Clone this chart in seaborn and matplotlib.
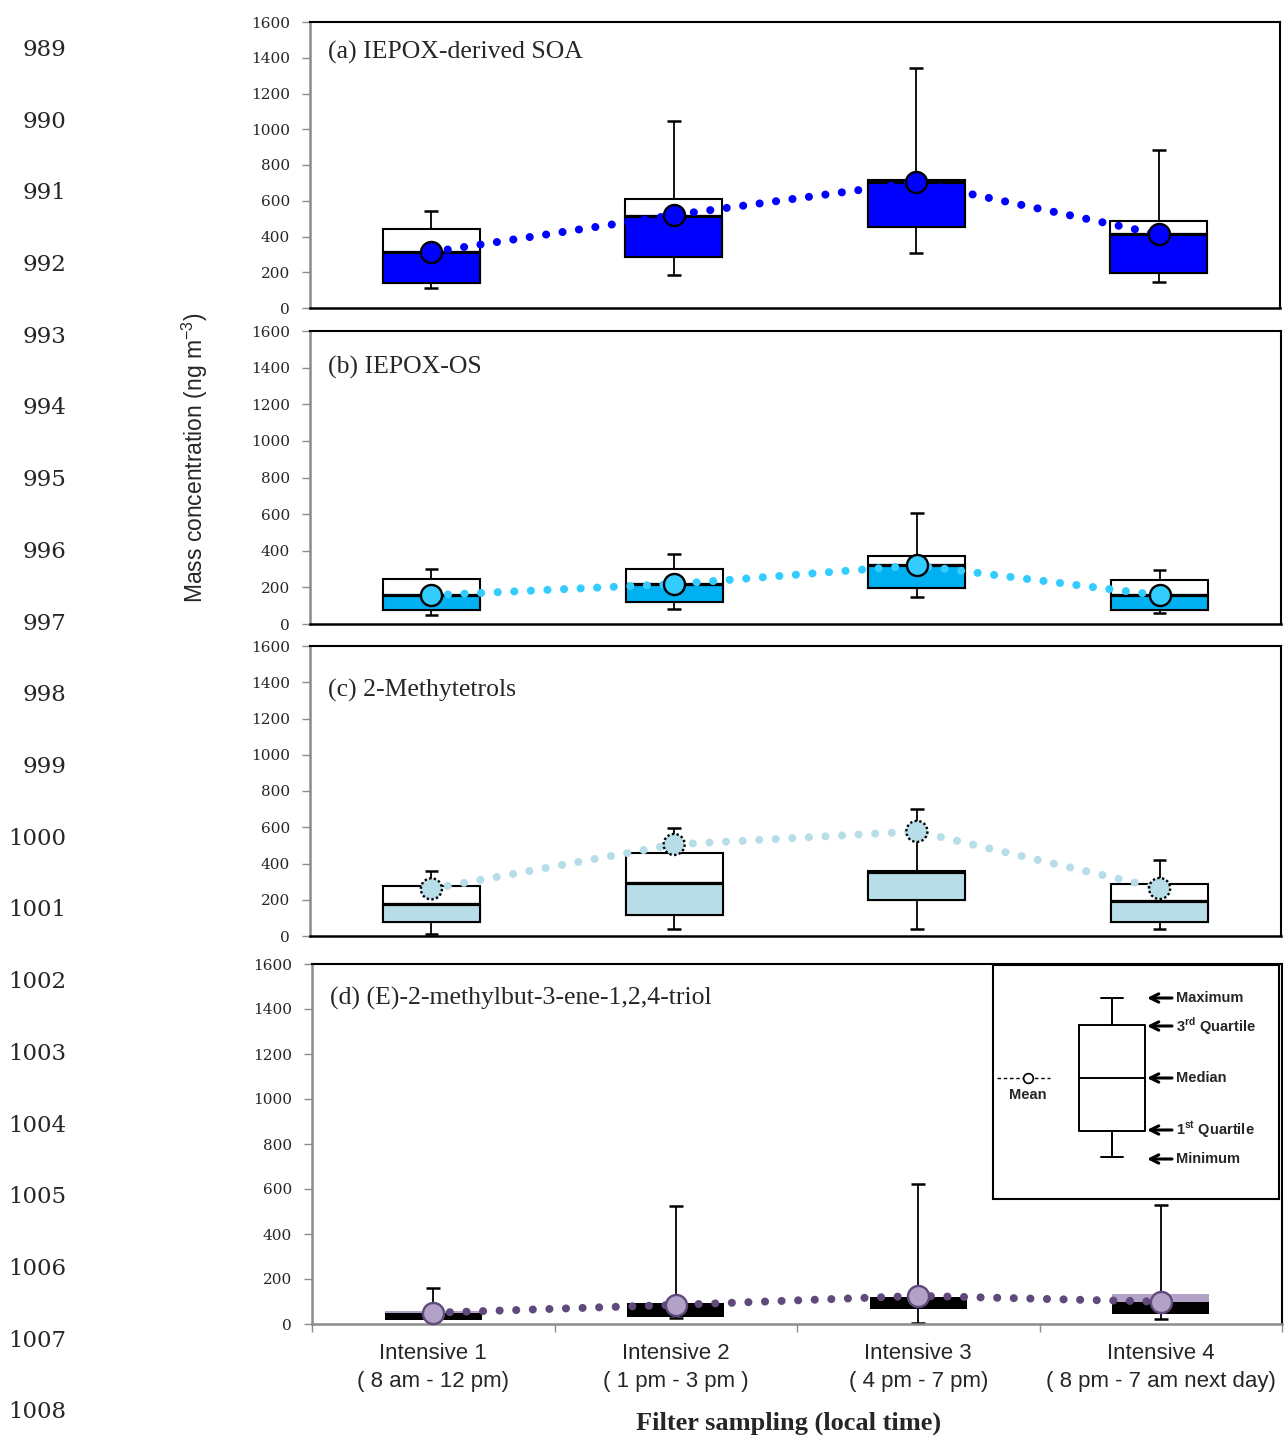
import numpy as np
import pandas as pd
import matplotlib
matplotlib.use("Agg")
import matplotlib.pyplot as plt
import seaborn as sns

# ---------------------------------------------------------------- data
periods = ["Intensive 1", "Intensive 2", "Intensive 3", "Intensive 4"]
period_labels = ["Intensive 1\n( 8 am - 12 pm)", "Intensive 2\n( 1 pm - 3 pm )",
                 "Intensive 3\n( 4 pm - 7 pm)", "Intensive 4\n( 8 pm - 7 am next day)"]

# (a) IEPOX-derived SOA (ng m-3)
soa_min = [112, 185, 308, 147]
soa_q1 = [138, 287, 455, 196]
soa_median = [313, 517, 703, 414]
soa_q3 = [444, 612, 716, 487]
soa_max = [543, 1048, 1344, 882]
soa_mean = [313, 520, 703, 412]

# (b) IEPOX-OS
os_min = [51, 84, 147, 62]
os_q1 = [76, 120, 197, 76]
os_median = [158, 220, 322, 158]
os_q3 = [248, 299, 371, 239]
os_max = [299, 381, 604, 297]
os_mean = [157, 218, 320, 157]

# (c) 2-methyltetrols
mt_min = [13, 37, 39, 37]
mt_q1 = [75, 118, 199, 79]
mt_median = [177, 291, 354, 195]
mt_q3 = [274, 456, 361, 286]
mt_max = [359, 596, 702, 418]
mt_mean = [260, 505, 577, 262]

# (d) (E)-2-methylbut-3-ene-1,2,4-triol
tr_min = [12, 27, 3, 22]
tr_q1 = [18, 33, 65, 43]
tr_median = [48, 92, 119, 99]
tr_q3 = [56, 93, 122, 133]
tr_max = [160, 526, 621, 529]
tr_mean = [50, 85, 125, 99]

panel_titles = ["(a) IEPOX-derived SOA", "(b) IEPOX-OS", "(c) 2-Methytetrols",
                "(d) (E)-2-methylbut-3-ene-1,2,4-triol"]
y_ticks = [0, 200, 400, 600, 800, 1000, 1200, 1400, 1600]
line_numbers = list(range(989, 1009))

legend_items = ["Maximum", r"3$^{\mathregular{rd}}$ Quartile", "Median",
                r"1$^{\mathregular{st}}$ Quartile", "Minimum"]

# ---------------------------------------------------------------- styles
styles = [
    dict(lower="#0000FF", upper="white", edge="black", box_lw=1.5, median_line=True,
         face="#0000FF", medge="black", mls="solid", line="#0000FF"),
    dict(lower="#00B0F0", upper="white", edge="black", box_lw=1.5, median_line=True,
         face="#33CCFF", medge="black", mls="solid", line="#33CCFF"),
    dict(lower="#B7DEE8", upper="white", edge="black", box_lw=1.5, median_line=True,
         face="#B7DEE8", medge="black", mls=(0, (1.0, 1.0)), line="#B7DEE8"),
    dict(lower="black", upper="#B3A2C7", edge="none", box_lw=0, median_line=False,
         face="#B3A2C7", medge="#604A7B", mls="solid", line="#604A7B"),
]
title_y = [0.892, 0.877, 0.848, 0.905]

sns.set_style("white")
plt.rcParams["font.family"] = ["Liberation Serif", "DejaVu Serif"]

W, H = 1284, 1437
fig = plt.figure(figsize=(W / 100, H / 100), dpi=100)
fig.patch.set_facecolor("white")


def px_axes(left, top, right, bottom):
    return fig.add_axes([left / W, 1 - bottom / H, (right - left) / W, (bottom - top) / H])


frames = [(310, 22, 1280, 308), (310, 331, 1281, 624), (310, 646, 1281, 936), (312, 964, 1282, 1324)]
datasets = [
    (soa_min, soa_q1, soa_median, soa_q3, soa_max, soa_mean),
    (os_min, os_q1, os_median, os_q3, os_max, os_mean),
    (mt_min, mt_q1, mt_median, mt_q3, mt_max, mt_mean),
    (tr_min, tr_q1, tr_median, tr_q3, tr_max, tr_mean),
]

GRAY = "#8c8c8c"
box_width = 0.4
cap_half = 0.028

for i, (frame, data, st) in enumerate(zip(frames, datasets, styles)):
    ax = px_axes(*frame)
    vmin, q1, med, q3, vmax, mean = data
    df = pd.DataFrame({"period": periods, "vmin": vmin, "q1": q1, "median": med,
                       "q3": q3, "vmax": vmax, "mean": mean})
    df["iqr"] = df["q3"] - df["q1"]
    df["lower"] = df["median"] - df["q1"]
    pos = np.arange(len(periods))

    # interquartile box (upper half colour), then lower quartile-to-median fill
    sns.barplot(data=df, x="period", y="iqr", bottom=df["q1"].to_numpy(),
                color=st["upper"], saturation=1, width=box_width, errorbar=None,
                edgecolor=st["edge"], linewidth=st["box_lw"], ax=ax, zorder=2)
    sns.barplot(data=df, x="period", y="lower", bottom=df["q1"].to_numpy(),
                color=st["lower"], saturation=1, width=box_width, errorbar=None,
                edgecolor=st["edge"], linewidth=st["box_lw"], ax=ax, zorder=2)
    if st["median_line"]:
        ax.hlines(df["median"], pos - box_width / 2, pos + box_width / 2,
                  color="black", lw=2.3, zorder=2.5)

    # whiskers with caps
    ax.vlines(pos, df["q3"], df["vmax"], color="black", lw=1.3, zorder=1)
    ax.vlines(pos, df["vmin"], df["q1"], color="black", lw=1.3, zorder=1)
    ax.hlines(df["vmax"], pos - cap_half, pos + cap_half, color="black", lw=1.8, zorder=1)
    ax.hlines(df["vmin"], pos - cap_half, pos + cap_half, color="black", lw=1.8, zorder=1)

    # dotted connector through the means, then the mean markers
    sns.lineplot(data=df, x="period", y="mean", color=st["line"], linewidth=5.8,
                 linestyle=(0, (0.01, 2.05)), dash_capstyle="round", errorbar=None,
                 legend=False, ax=ax, zorder=3)
    sns.scatterplot(data=df, x="period", y="mean", s=230, color=st["face"],
                    edgecolor=st["medge"], linewidth=1.7, linestyle=st["mls"],
                    legend=False, ax=ax, zorder=4, clip_on=False)

    ax.set_xlim(-0.5, 3.5)
    ax.set_ylim(0, 1600)
    ax.set_yticks(y_ticks)
    ax.set_xlabel("")
    ax.set_ylabel("")
    ax.tick_params(axis="y", direction="out", length=6, width=1, color=GRAY,
                   pad=8.5, labelsize=11, left=True)
    for lab in ax.get_yticklabels():
        lab.set_fontfamily("DejaVu Serif")

    for side in ("top", "right"):
        ax.spines[side].set_color("black")
        ax.spines[side].set_linewidth(1.5)
    ax.spines["left"].set_color(GRAY)
    ax.spines["left"].set_linewidth(1.8)

    if i < 3:
        ax.spines["bottom"].set_color("black")
        ax.spines["bottom"].set_linewidth(1.8)
        ax.set_xticks([])
    else:
        ax.spines["bottom"].set_color(GRAY)
        ax.spines["bottom"].set_linewidth(1.8)
        ax.set_xticks(pos)
        ax.set_xticklabels(period_labels, fontfamily="Liberation Sans", fontsize=16,
                           linespacing=1.4)
        ax.set_xticks(np.arange(-0.5, 4.0, 1.0), minor=True)
        ax.tick_params(axis="x", which="major", length=0, pad=14, bottom=True)
        ax.tick_params(axis="x", which="minor", length=6, width=1, color=GRAY,
                       direction="out", bottom=True)

    ax.text(18 / 970, title_y[i], panel_titles[i], transform=ax.transAxes,
            fontfamily="Liberation Serif", fontsize=18.5, va="center", ha="left")

# ---------------------------------------------------------------- key box in panel (d)
lg = fig.add_axes([993 / W, 1 - 1199 / H, 286 / W, 234 / H])
lg.set_xlim(0, 286)
lg.set_ylim(234, 0)
lg.set_xticks([])
lg.set_yticks([])
lg.set_facecolor("white")
for s in lg.spines.values():
    s.set_color("black")
    s.set_linewidth(1.5)
k = dict(color="black", lw=1.4)
lg.plot([119, 119], [33, 60], **k)
lg.plot([119, 119], [166, 192], **k)
lg.plot([108, 130], [33, 33], **k)
lg.plot([108, 130], [192, 192], **k)
lg.plot([86, 152, 152, 86, 86], [60, 60, 166, 166, 60], **k)
lg.plot([86, 152], [113, 113], **k)
lg.plot([4, 57], [113, 113], color="black", lw=1.0, ls=(0, (2.5, 2.0)))
lg.plot([35], [113], marker="o", ms=7, mfc="white", mec="black", mew=1.2)
lg.text(35, 130, "Mean", ha="center", va="center", fontfamily="Liberation Sans",
        fontweight="bold", fontsize=10.5)
for yk, lab in zip([33, 61, 113, 165, 194], legend_items):
    lg.annotate("", xy=(154, yk), xytext=(179, yk),
                arrowprops=dict(arrowstyle="->", lw=2.2, color="black",
                                mutation_scale=15, shrinkA=0, shrinkB=0))
    lg.text(183, yk, lab, ha="left", va="center", fontfamily="Liberation Sans",
            fontweight="bold", fontsize=10.5)

# ---------------------------------------------------------------- figure texts
fig.text(195 / W, 1 - 458 / H, r"Mass concentration (ng m$^{\mathregular{-3}}$)",
         rotation=90, ha="center", va="center", fontfamily="Liberation Sans", fontsize=16.5)
fig.text(789 / W, 1 - 1423 / H, "Filter sampling (local time)", ha="center", va="center",
         fontfamily="Liberation Serif", fontweight="bold", fontsize=19)

for j, n in enumerate(line_numbers):
    fig.text(66 / W, 1 - (50 + j * 71.7) / H, str(n), ha="right", va="center",
             fontfamily="DejaVu Serif", fontsize=16.5)

fig.savefig("out.png", dpi=100, facecolor="white")
